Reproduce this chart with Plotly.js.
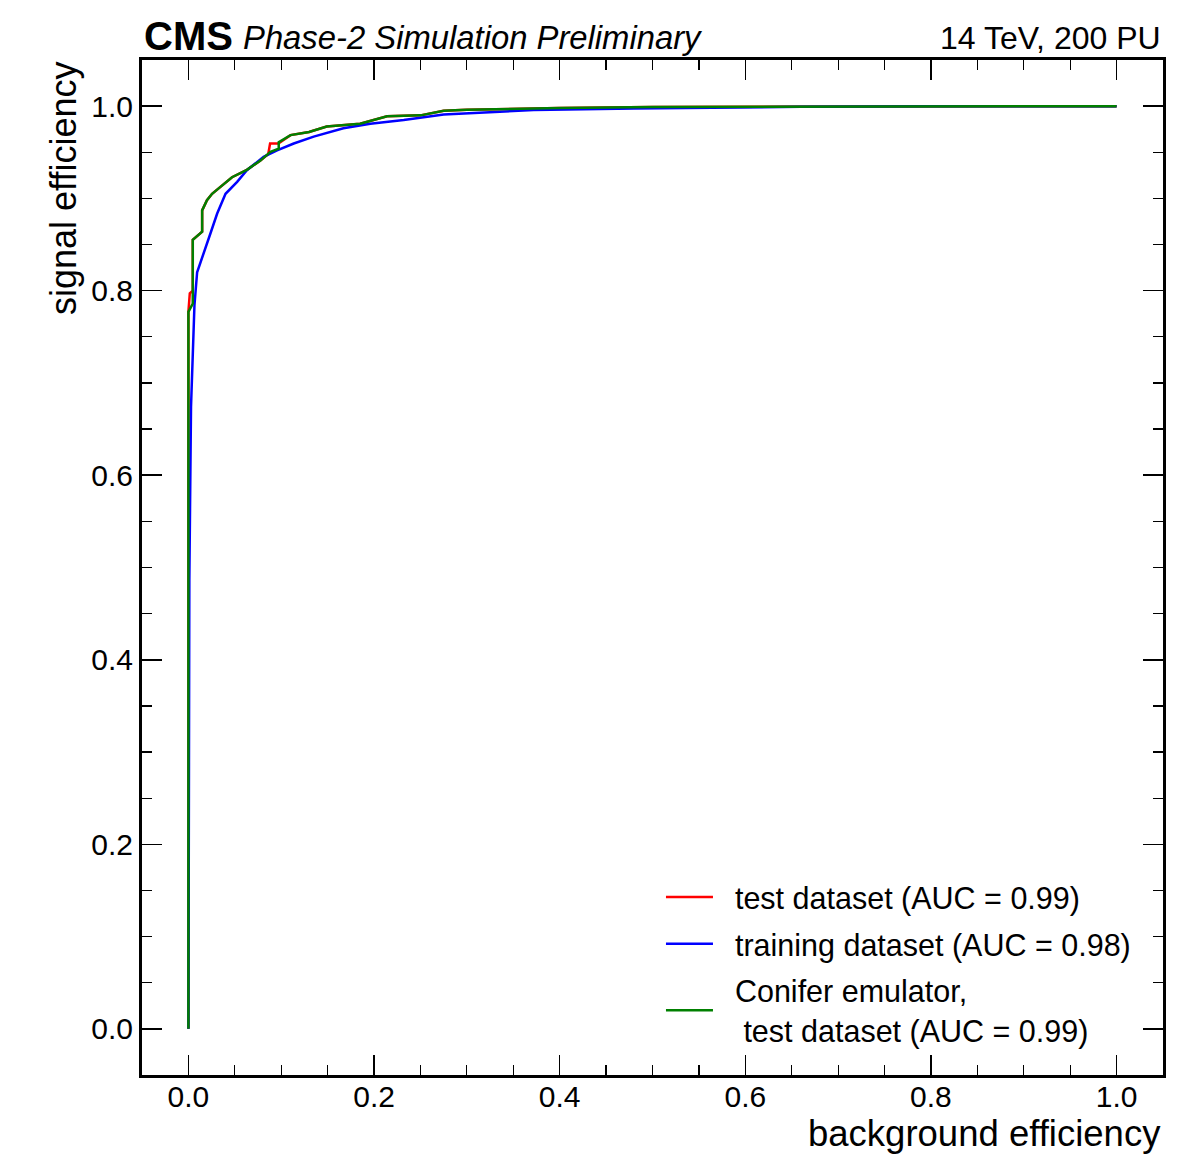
<!DOCTYPE html>
<html>
<head>
<meta charset="utf-8">
<script src="https://cdn.plot.ly/plotly-3.0.1.min.js"></script>
<style>html,body{margin:0;padding:0;background:#fff;}#chart{width:1180px;height:1155px;}</style>
</head>
<body>
<div id="chart"></div>
<script>
// Test dataset ROC (red)
const testX = [0, 0, 0.0015, 0.0047, 0.0047, 0.0148, 0.0148, 0.02, 0.0255, 0.0345, 0.047, 0.063, 0.0776, 0.086, 0.088, 0.097, 0.103, 0.110, 0.13, 0.149, 0.185, 0.214, 0.25, 0.275, 0.3, 0.4, 0.5, 0.66, 0.8, 1.0];
const testY = [0, 0.777, 0.797, 0.80, 0.855, 0.864, 0.887, 0.898, 0.905, 0.9125, 0.923, 0.931, 0.941, 0.948, 0.9595, 0.9595, 0.964, 0.9686, 0.972, 0.978, 0.981, 0.989, 0.990, 0.995, 0.996, 0.998, 0.999, 0.9995, 1.0, 1.0];
// Training dataset ROC (blue)
const trainX = [0, 0.0005, 0.001, 0.0028, 0.005, 0.0065, 0.0094, 0.0165, 0.0237, 0.031, 0.040, 0.0525, 0.063, 0.081, 0.0955, 0.1135, 0.135, 0.167, 0.196, 0.232, 0.275, 0.372, 0.48, 0.66, 0.8, 1.0];
const trainY = [0, 0.3, 0.486, 0.674, 0.75, 0.784, 0.82, 0.84, 0.862, 0.8836, 0.905, 0.918, 0.9306, 0.945, 0.952, 0.9595, 0.967, 0.976, 0.981, 0.985, 0.991, 0.9957, 0.9975, 0.9993, 1.0, 1.0];
// Conifer emulator, test dataset ROC (green)
const emuX = [0, 0, 0.0047, 0.0047, 0.0148, 0.0148, 0.02, 0.0255, 0.0345, 0.047, 0.063, 0.0776, 0.0884, 0.0973, 0.0973, 0.110, 0.13, 0.149, 0.185, 0.214, 0.25, 0.275, 0.3, 0.4, 0.5, 0.66, 0.8, 1.0];
const emuY = [0, 0.777, 0.786, 0.855, 0.864, 0.887, 0.898, 0.905, 0.9125, 0.923, 0.931, 0.941, 0.9505, 0.954, 0.961, 0.9686, 0.972, 0.978, 0.981, 0.989, 0.990, 0.995, 0.996, 0.998, 0.999, 0.9995, 1.0, 1.0];

const NB = "\u00a0\u00a0";
const seriesNames = [NB + "test dataset (AUC = 0.99)", NB + "training dataset (AUC = 0.98)", NB + "Conifer emulator,<br>" + NB + "\u00a0test dataset (AUC = 0.99)"];
const tickVals = [0, 0.2, 0.4, 0.6, 0.8, 1.0];
const tickText = ["0.0", "0.2", "0.4", "0.6", "0.8", "1.0"];

const FONT = "Liberation Sans, Arial, Helvetica, sans-serif";

const traces = [
  {x: testX, y: testY, name: seriesNames[0], legendgroup: "a", mode: "lines", line: {color: "#ff0000", width: 2.5}},
  {x: trainX, y: trainY, name: seriesNames[1], legendgroup: "b", mode: "lines", line: {color: "#0000ff", width: 2.5}},
  {x: emuX, y: emuY, name: seriesNames[2], legendgroup: "c", mode: "lines", line: {color: "#008000", width: 2.5}}
];

const axisCommon = {
  range: [-0.05, 1.05],
  tickvals: tickVals,
  ticktext: tickText,
  ticks: "inside",
  ticklen: 20,
  tickwidth: 1.5,
  tickcolor: "#000",
  showline: true,
  linewidth: 3,
  linecolor: "#000",
  mirror: "allticks",
  showgrid: false,
  zeroline: false,
  tickfont: {family: FONT, size: 30, color: "#000"},
  minor: {dtick: 0.05, tick0: 0, ticks: "inside", ticklen: 10, tickwidth: 1.2, tickcolor: "#000", showgrid: false}
};

const layout = {
  width: 1180,
  height: 1155,
  margin: {l: 142, r: 17, t: 60, b: 80},
  paper_bgcolor: "#fff",
  plot_bgcolor: "#fff",
  font: {family: FONT, color: "#000"},
  xaxis: Object.assign({}, axisCommon, {ticklabelstandoff: -7}),
  yaxis: Object.assign({}, axisCommon),
  showlegend: true,
  legend: {
    x: 0.5083, y: 0.018, xanchor: "left", yanchor: "bottom",
    bgcolor: "rgba(0,0,0,0)",
    font: {family: FONT, size: 30.5, color: "#000"},
    itemwidth: 47,
    traceorder: "grouped",
    tracegroupgap: 4
  },
  annotations: [
    {text: "<b>CMS</b>", xref: "paper", yref: "paper", x: 0, y: 1, xanchor: "left", yanchor: "bottom", yshift: 0, showarrow: false, font: {family: FONT, size: 40, color: "#000"}},
    {text: "<i>Phase-2 Simulation Preliminary</i>", xref: "paper", yref: "paper", x: 0.097, y: 1, xanchor: "left", yanchor: "bottom", yshift: 2, showarrow: false, font: {family: FONT, size: 32.8, color: "#000"}},
    {text: "14 TeV, 200 PU", xref: "paper", yref: "paper", x: 1, y: 1, xanchor: "right", yanchor: "bottom", yshift: 2, showarrow: false, font: {family: FONT, size: 32, color: "#000"}},
    {text: "background efficiency", xref: "paper", yref: "paper", x: 1, y: 0, xanchor: "right", yanchor: "top", yshift: -36, showarrow: false, font: {family: FONT, size: 36.5, color: "#000"}},
    {text: "signal efficiency", xref: "paper", yref: "paper", x: 0, y: 1, xanchor: "right", yanchor: "top", xshift: -56, showarrow: false, textangle: -90, font: {family: FONT, size: 36, color: "#000"}}
  ]
};

Plotly.newPlot("chart", traces, layout, {displayModeBar: false, staticPlot: true});
</script>
</body>
</html>
